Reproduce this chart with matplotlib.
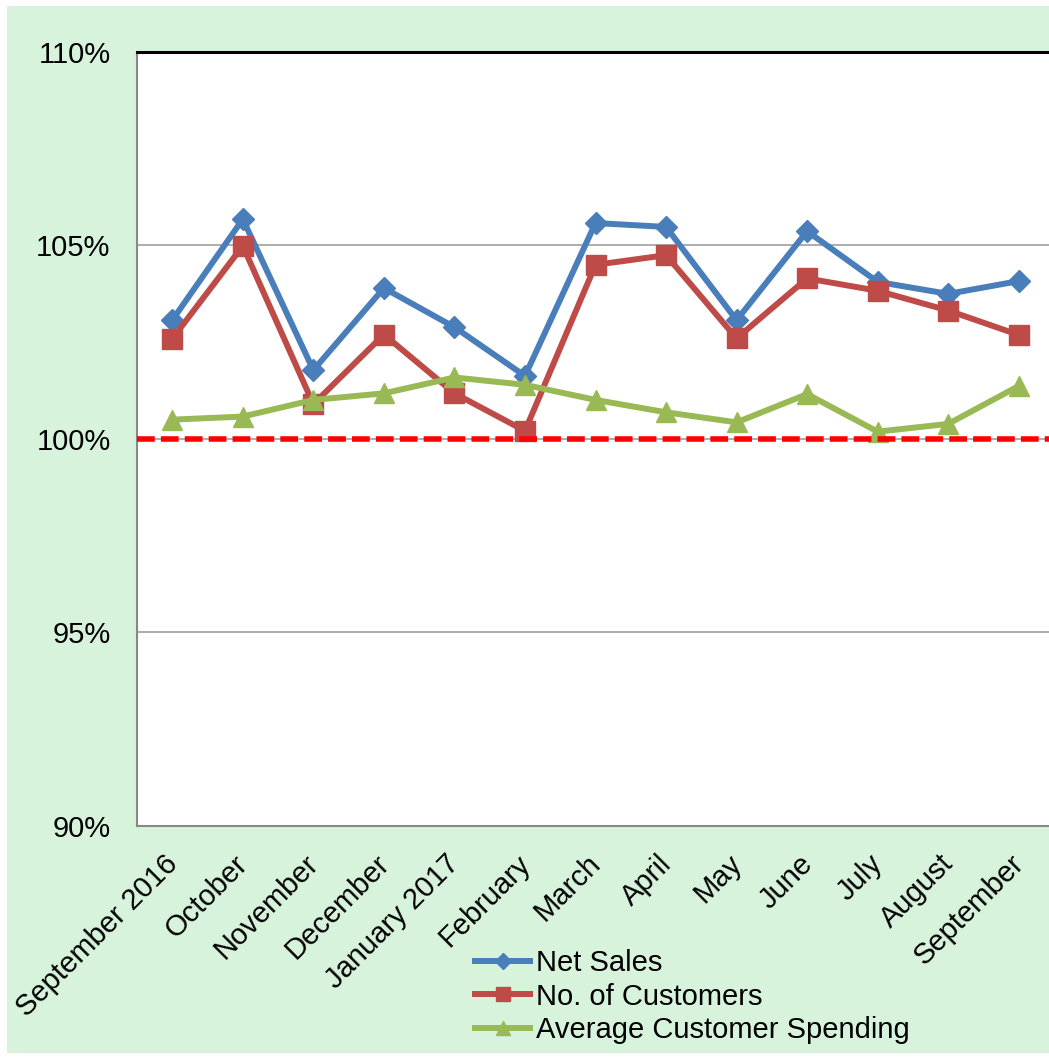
import matplotlib
matplotlib.use("Agg")
import matplotlib.pyplot as plt
import matplotlib.patches as mpatches
import matplotlib.transforms as mtransforms
from matplotlib.ticker import FixedLocator, FuncFormatter

plt.rcParams['font.family'] = ['Liberation Sans', 'DejaVu Sans']

# data (percent of previous year)
months = ['September 2016', 'October', 'November', 'December', 'January 2017',
          'February', 'March', 'April', 'May', 'June', 'July', 'August', 'September']
net_sales = [103.07, 105.68, 101.78, 103.90, 102.89, 101.63, 105.58, 105.48,
             103.07, 105.37, 104.06, 103.75, 104.08]
customers = [102.59, 104.99, 100.90, 102.70, 101.18, 100.21, 104.50, 104.75,
             102.60, 104.15, 103.83, 103.32, 102.69]
spending = [100.50, 100.58, 101.01, 101.18, 101.59, 101.40, 101.01, 100.69,
            100.43, 101.16, 100.19, 100.39, 101.37]
y_ticks = [90, 95, 100, 105, 110]

BG = '#D8F3DC'
BLUE = '#4A7EBB'
RED = '#BE4B48'
GREEN = '#98B954'
FS = 21

W, H = 1049, 1059
fig = plt.figure(figsize=(W / 100, H / 100), dpi=100, facecolor='white')

# green chart area with a thin white margin
fig.patches.append(mpatches.Rectangle((7 / W, 6 / H), 1 - 7 / W, 1 - 12 / H,
                                      transform=fig.transFigure, facecolor=BG,
                                      edgecolor='none', zorder=-10))

ax = fig.add_axes([137 / W, (H - 826) / H, (1054 - 137) / W, (826 - 52) / H])
ax.set_facecolor('white')

x = list(range(len(months)))
ax.plot(x, net_sales, color=BLUE, lw=4.3, marker='D', ms=11, mec=BLUE,
        label='Net Sales', zorder=3, solid_joinstyle='miter')
ax.plot(x, customers, color=RED, lw=4.3, marker='s', ms=14, mec=RED,
        label='No. of Customers', zorder=4, solid_joinstyle='miter')
ax.plot(x, spending, color=GREEN, lw=4.3, marker='^', ms=14, mec=GREEN,
        label='Average Customer Spending', zorder=5, solid_joinstyle='miter')

# reference line at 100%
ax.axhline(100, color='#FF0000', lw=4, dashes=(3.2, 1.1), zorder=6)

ax.set_xlim(-0.5, len(months) - 0.5)
ax.set_ylim(90, 110)
ax.yaxis.set_major_locator(FixedLocator(y_ticks))
ax.yaxis.set_major_formatter(FuncFormatter(lambda v, p: f'{v:.0f}%'))
ax.grid(axis='y', color='#A0A0A0', lw=1.2, zorder=1)
ax.set_axisbelow(True)

ax.set_xticks(x)
ax.set_xticklabels(months, rotation=45, ha='right', va='top',
                   rotation_mode='anchor')
ax.tick_params(axis='x', length=0, pad=17, labelsize=FS)
ax.tick_params(axis='y', length=0, pad=19, labelsize=FS)

# nudge the slanted month labels a little to the left
shift = mtransforms.ScaledTranslation(-9 / 100, 0, fig.dpi_scale_trans)
for lbl in ax.get_xticklabels():
    lbl.set_transform(lbl.get_transform() + shift)

ax.spines['top'].set_color('black')
ax.spines['top'].set_linewidth(2.2)
ax.spines['right'].set_visible(False)
for s in ('left', 'bottom'):
    ax.spines[s].set_color('#888888')
    ax.spines[s].set_linewidth(1.5)

ax.legend(loc='upper left', bbox_to_anchor=(475 / W, 1 - 949 / H),
          bbox_transform=fig.transFigure, frameon=False, fontsize=FS,
          handlelength=1.9, handletextpad=0.2, labelspacing=0.19,
          borderpad=0, borderaxespad=0, markerscale=0.7)

fig.savefig('out.png', dpi=100, facecolor='white')
